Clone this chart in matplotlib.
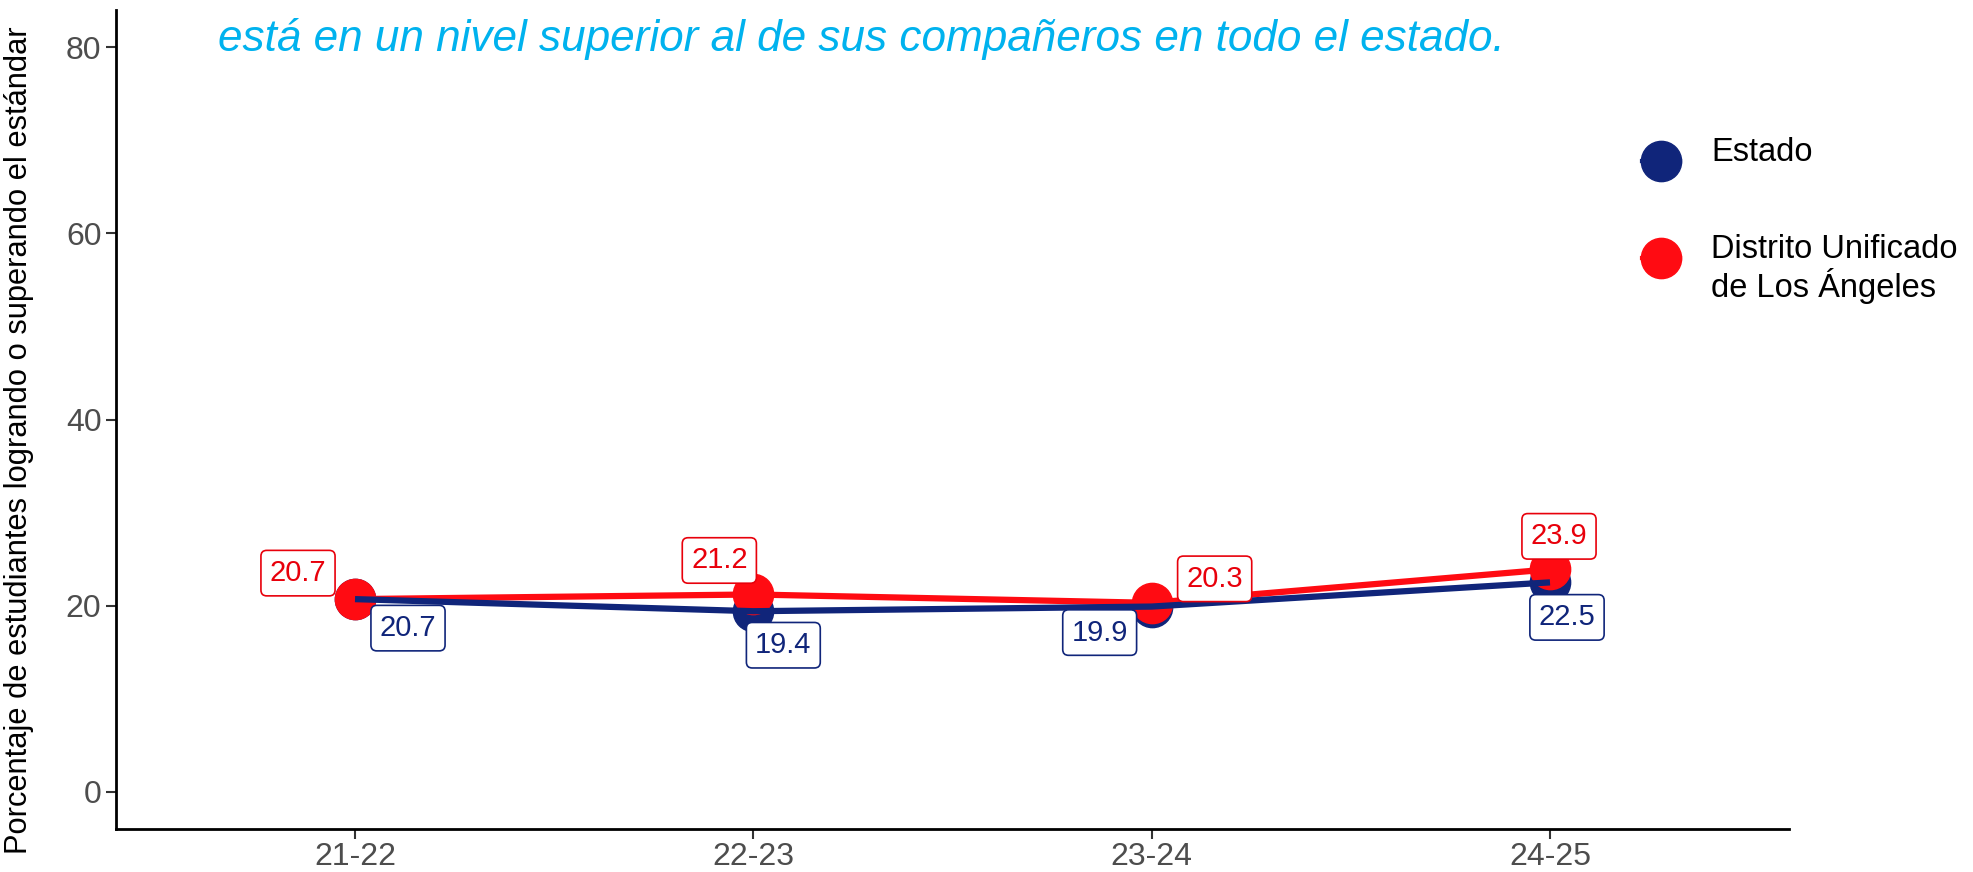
import matplotlib
matplotlib.use("Agg")
import matplotlib.pyplot as plt
from matplotlib.lines import Line2D

plt.rcParams['font.family'] = ['Liberation Sans', 'DejaVu Sans']

years = ["21-22", "22-23", "23-24", "24-25"]
estado = [20.7, 19.4, 19.9, 22.5]
distrito = [20.7, 21.2, 20.3, 23.9]
series_names = ["Estado", "Distrito Unificado\nde Los Ángeles"]
title_line2 = "está en un nivel superior al de sus compañeros en todo el estado."
ylabel = "Porcentaje de estudiantes logrando o superando el estándar"
yticks = [0, 20, 40, 60, 80]

BLUE = "#10257A"
RED = "#FF0B12"
RED_TXT = "#E8000B"
CYAN = "#00B2EE"

fig = plt.figure(figsize=(19.73, 8.72), dpi=100)
ax = fig.add_axes([116/1973, 1-829/872, (1789-116)/1973, (829-10)/872])

x = list(range(len(years)))
ax.plot(x, estado, 'o', color=BLUE, markersize=29, zorder=2)
ax.plot(x, distrito, 'o', color=RED, markersize=29, zorder=3)
ax.plot(x, distrito, '-', color=RED, linewidth=4.5, zorder=4, solid_capstyle='butt')
ax.plot(x, estado, '-', color=BLUE, linewidth=4.5, zorder=5, solid_capstyle='butt')

red_off = [(-57, 26), (-34, 34), (63, 24), (9, 33)]
blue_off = [(53, -29), (30, -34), (-52, -26), (17, -35)]
bbox_kw = dict(boxstyle='round,pad=0.3,rounding_size=0.2', fc='white', lw=1.2)
for i in x:
    ax.annotate(f"{distrito[i]:.1f}", (i, distrito[i]), xytext=red_off[i],
                textcoords='offset pixels', ha='center', va='center',
                fontsize=21, color=RED_TXT, zorder=6,
                bbox=dict(ec=RED_TXT, **bbox_kw))
    ax.annotate(f"{estado[i]:.1f}", (i, estado[i]), xytext=blue_off[i],
                textcoords='offset pixels', ha='center', va='center',
                fontsize=21, color=BLUE, zorder=6,
                bbox=dict(ec=BLUE, **bbox_kw))

ax.set_xlim(-0.6, 3.6)
ax.set_ylim(-4, 84)
ax.set_xticks(x)
ax.set_xticklabels(years)
ax.set_yticks(yticks)
ax.tick_params(axis='both', labelsize=23, labelcolor='#4D4D4D', color='#333333', length=7, width=1.5)
ax.tick_params(axis='x', pad=2)
ax.set_ylabel(ylabel, fontsize=22.2, color='black')
ax.yaxis.set_label_coords(-0.049, 0.475)
for s in ['top', 'right']:
    ax.spines[s].set_visible(False)
for s in ['left', 'bottom']:
    ax.spines[s].set_linewidth(2)
    ax.spines[s].set_color('black')

fig.text(218/1973, 1-39/872, title_line2, fontsize=31.8, style='italic', color=CYAN,
         ha='left', va='center')

# legend
leg_y = [1-161/872, 1-258/872]
text_y = [1-152/872, 1-269/872]
cols = [BLUE, RED]
for yy, ty, c, name in zip(leg_y, text_y, cols, series_names):
    fig.add_artist(Line2D([1642/1973, 1680/1973], [yy, yy], color=c, lw=3, transform=fig.transFigure))
    fig.add_artist(Line2D([1661/1973], [yy], marker='o', color=c, markersize=29, transform=fig.transFigure))
    fig.text(1711/1973, ty, name, fontsize=23.5, color='black',
             ha='left', va='center', linespacing=1.1)

fig.savefig("out.png", dpi=100)
